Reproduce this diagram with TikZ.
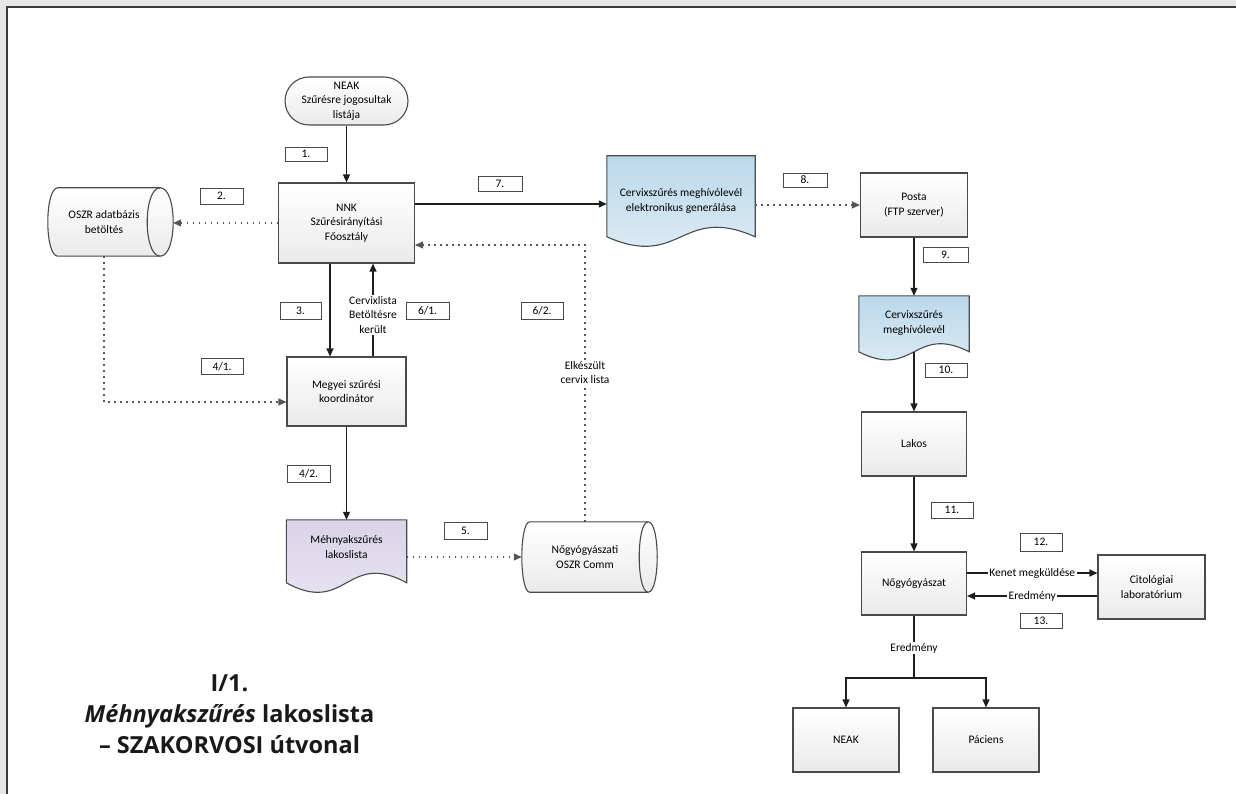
\documentclass[tikz,border=0pt]{standalone}
\usepackage{fontspec}
\setmainfont{Carlito}
\newfontfamily\capfont{Open Sans}
\usetikzlibrary{arrows.meta,calc}
\definecolor{bggray}{HTML}{E6E6E6}
\definecolor{framec}{HTML}{3A3A3A}
\definecolor{boxline}{HTML}{4A4A4A}
\definecolor{boxbot}{HTML}{EAEAEA}
\definecolor{lineblk}{HTML}{1E1E1E}
\definecolor{dotc}{HTML}{555555}
\definecolor{bluetop}{HTML}{BBD8EA}
\definecolor{bluebot}{HTML}{E2EFF6}
\definecolor{lavtop}{HTML}{D9D3E8}
\definecolor{lavbot}{HTML}{EAE6F2}
\pgfdeclarelayer{bg}
\pgfsetlayers{bg,main}
\newcommand\dfont{\fontsize{11.5}{14.5}\selectfont}
\newcommand\docshape[5]{%
  \path[draw=boxline, line width=1.1pt, top color=#4, bottom color=#5]
    let \p1=(#1.north west), \p2=(#1.north east) in
    (\x1,\y1) -- (\x2,\y2) -- (\x2,{\y2-#2})
    .. controls ({(\x1+\x2)/2},{\y2-#2+#3}) and ({(\x1+\x2)/2},{\y2-#2-#3}) ..
    (\x1,{\y1-#2}) -- cycle;}
\newcommand\hcyl[3]{%
  \path[draw=boxline, line width=1.1pt, top color=white, bottom color=boxbot]
    let \p1=(#1.north west), \p2=(#1.south east) in
    ({\x1+#2},\y1) -- (\x2,\y1)
    .. controls ({\x2+4/3*#3},\y1) and ({\x2+4/3*#3},\y2) .. (\x2,\y2)
    -- ({\x1+#2},\y2)
    .. controls ({\x1+#2-4/3*#2},\y2) and ({\x1+#2-4/3*#2},\y1) .. ({\x1+#2},\y1) -- cycle;
  \path[draw=boxline, line width=1.1pt]
    let \p1=(#1.north west), \p2=(#1.south east) in
    (\x2,\y1) .. controls ({\x2-4/3*#3},\y1) and ({\x2-4/3*#3},\y2) .. (\x2,\y2);}
\begin{document}
\begin{tikzpicture}[x=1pt,y=-1pt,
  proc/.style={draw=boxline, line width=1.1pt, top color=white, bottom color=boxbot,
    align=center, inner sep=0pt, font=\dfont},
  term/.style={proc, rounded corners=24pt},
  txtn/.style={inner sep=0pt, align=center, font=\dfont},
  lbl/.style={draw=boxline, line width=0.8pt, fill=white, inner sep=0pt, font=\dfont},
  arr/.style={-{Triangle[length=8pt,width=7pt]}, line width=1.2pt, draw=lineblk},
  plainline/.style={line width=1.2pt, draw=lineblk},
  dotarr/.style={-{Triangle[length=8pt,width=7pt]}, line width=1.2pt, draw=dotc, dash pattern=on 1.4pt off 4.6pt},
  txtbg/.style={fill=white, inner sep=1.5pt, align=center, font=\dfont}]
\useasboundingbox (0,0) rectangle (1236,794);
\begin{pgfonlayer}{bg}
\fill[bggray] (0,0) rectangle (1236,794);
\fill[white] (7,7) rectangle (1236,794);
\draw[framec, line width=2pt] (7,794) -- (7,7) -- (1236,7);
\end{pgfonlayer}

% nodes
\node[term, minimum width=123pt, minimum height=48pt] (neak) at (346.5,101) {NEAK\\Szűrésre jogosultak\\listája};
\node[proc, minimum width=136pt, minimum height=80pt] (nnk) at (346.5,223) {NNK\\Szűrésirányítási\\Főosztály};
\node[txtn, minimum width=112pt, minimum height=68pt] (oszr) at (104,222) {OSZR adatbázis\\betöltés};
\node[proc, minimum width=119pt, minimum height=69pt] (megyei) at (346.5,391.5) {Megyei szűrési\\koordinátor};
\node[txtn, minimum width=120pt, minimum height=54pt] (mehny) at (346.5,547) {Méhnyakszűrés\\lakoslista};
\node[txtn, minimum width=126pt, minimum height=70pt] (nogy) at (585,557) {Nőgyógyászati\\OSZR Comm};
\node[txtn, minimum width=148pt, minimum height=90pt] (doc1) at (681,201) {Cervixszűrés meghívólevél\\elektronikus generálása};
\node[proc, minimum width=107pt, minimum height=64pt] (posta) at (914,205) {Posta\\(FTP szerver)};
\node[txtn, minimum width=110pt, minimum height=54pt] (doc2) at (914,323) {Cervixszűrés\\meghívólevél};
\node[proc, minimum width=105pt, minimum height=64pt] (lakos) at (914,444) {Lakos};
\node[proc, minimum width=105pt, minimum height=63pt] (nogyaszat) at (914,583.5) {Nőgyógyászat};
\node[proc, minimum width=107pt, minimum height=64pt] (citol) at (1151.5,587) {Citológiai\\laboratórium};
\node[proc, minimum width=106pt, minimum height=64pt] (neakb) at (846,740) {NEAK};
\node[proc, minimum width=106pt, minimum height=64pt] (pac) at (986,740) {Páciens};
\coordinate (split) at (914,678);

% shapes behind text
\begin{pgfonlayer}{bg}
\hcyl{oszr}{10pt}{13pt}
\hcyl{nogy}{8pt}{9pt}
\docshape{mehny}{63pt}{33pt}{lavtop}{lavbot}
\docshape{doc1}{81pt}{33pt}{bluetop}{bluebot}
\docshape{doc2}{56pt}{28pt}{bluetop}{bluebot}
\end{pgfonlayer}

% step labels
\node[lbl, minimum width=42pt, minimum height=14pt] (lab1) at (306,154) {1.};
\node[lbl, minimum width=43pt, minimum height=16pt] (lab2) at (221.5,196) {2.};
\node[lbl, minimum width=44pt, minimum height=15pt] (lab7) at (500,183.5) {7.};
\node[lbl, minimum width=41pt, minimum height=17pt] (lab3) at (300.5,310.5) {3.};
\node[lbl, minimum width=43pt, minimum height=17pt] (lab61) at (427.5,310.5) {6/1.};
\node[lbl, minimum width=42pt, minimum height=17pt] (lab62) at (542,310.5) {6/2.};
\node[lbl, minimum width=42pt, minimum height=16pt] (lab41) at (222,366.5) {4/1.};
\node[lbl, minimum width=43pt, minimum height=17pt] (lab42) at (308.5,473.5) {4/2.};
\node[lbl, minimum width=43pt, minimum height=17pt] (lab5) at (465.5,530.5) {5.};
\node[lbl, minimum width=44pt, minimum height=14pt] (lab8) at (805,180) {8.};
\node[lbl, minimum width=45pt, minimum height=15pt] (lab9) at (945.5,254.5) {9.};
\node[lbl, minimum width=42pt, minimum height=14pt] (lab10) at (946,370) {10.};
\node[lbl, minimum width=42pt, minimum height=16pt] (lab11) at (952,510) {11.};
\node[lbl, minimum width=42pt, minimum height=18pt] (lab12) at (1041,542) {12.};
\node[lbl, minimum width=42pt, minimum height=15pt] (lab13) at (1041,620.5) {13.};

% connectors
\draw[arr] (neak.south) -- (nnk.north);
\draw[dotarr] (nnk.west) -- ([xshift=13pt]oszr.east |- nnk.west);
\draw[arr] ([xshift=-16.5pt]nnk.south) -- ([xshift=-16.5pt]nnk.south |- megyei.north);
\draw[arr] ([xshift=26.5pt]megyei.north) -- node[txtbg, pos=0.45] {Cervixlista\\Betöltésre\\került} ([xshift=26.5pt]megyei.north |- nnk.south);
\draw[dotarr] (oszr.south) |- ([yshift=-10.5pt]megyei.west);
\draw[arr] (megyei.south) -- (mehny.north);
\draw[dotarr] (mehny.east |- nogy.west) -- (nogy.west);
\draw[dotarr] (nogy.north) |- node[txtbg, pos=0.27] {Elkészült\\cervix lista} ([yshift=-22pt]nnk.east);
\draw[arr] ([yshift=19pt]nnk.east) -- ([yshift=19pt]nnk.east -| doc1.west);
\draw[dotarr] (doc1.east |- posta.west) -- (posta.west);
\draw[arr] (posta.south) -- (doc2.north);
\draw[arr] ([yshift=-56pt]doc2.north) -- (lakos.north);
\draw[arr] (lakos.south) -- (nogyaszat.north);
\draw[arr] ([yshift=10.5pt]nogyaszat.east) -- node[txtbg] {Kenet megküldése} ([yshift=10.5pt]nogyaszat.east -| citol.west);
\draw[arr] ([yshift=-12.5pt]nogyaszat.east -| citol.west) -- node[txtbg] {Eredmény} ([yshift=-12.5pt]nogyaszat.east);
\draw[plainline] (nogyaszat.south) -- node[txtbg, pos=0.52] {Eredmény} (split);
\draw[arr] (split) -| (neakb.north);
\draw[arr] (split) -| (pac.north);

% caption
\node[font=\capfont\bfseries\fontsize{23.5}{31}\selectfont, align=center, text=black!90] (cap) at (229.5,714)
  {I/1.\\\textit{Méhnyakszűrés} lakoslista\\– SZAKORVOSI útvonal};
\end{tikzpicture}
\end{document}
